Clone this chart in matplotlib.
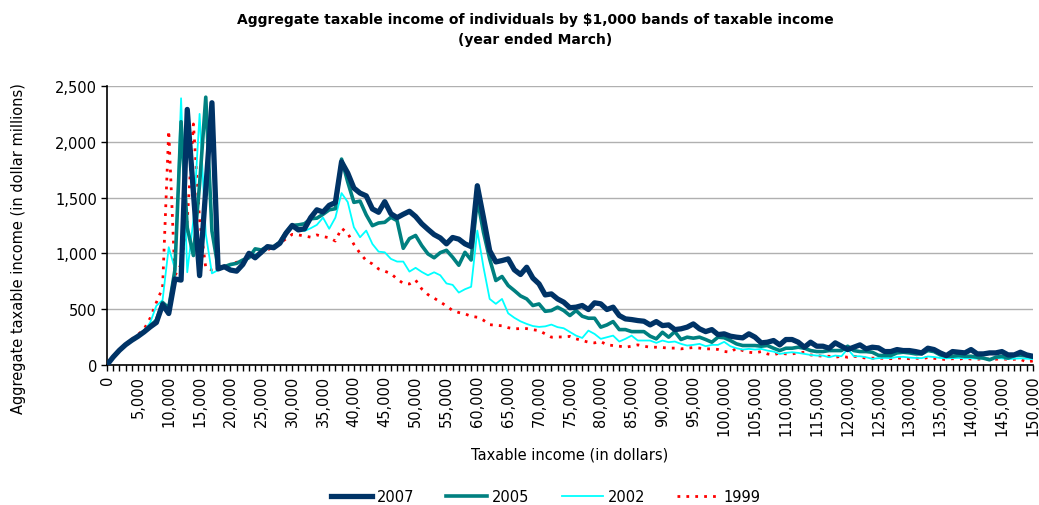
import matplotlib
matplotlib.use("Agg")
import matplotlib.pyplot as plt
import numpy as np

plt.rcParams['font.family'] = ['DejaVu Sans']

# income bands in $1,000 (0 .. 150)
bands = list(range(0, 151))

y2007 = [0, 70, 130, 180, 220, 255, 295, 340, 380, 540, 460, 770, 760, 2290, 1550, 800, 1580, 2350, 860, 880,
         850, 840, 900, 1000, 960, 1010, 1060, 1050, 1090, 1180, 1250, 1210, 1220, 1320, 1390, 1370, 1430, 1455, 1820, 1720,
         1585, 1540, 1515, 1398, 1368, 1463, 1355, 1320, 1350, 1377, 1330, 1265, 1215, 1168, 1138, 1085, 1142, 1127, 1085, 1060,
         1606, 1320, 1024, 923, 935, 950, 852, 810, 875, 778, 726, 627, 636, 591, 562, 512, 517, 532, 496, 556,
         547, 496, 517, 442, 412, 406, 397, 391, 358, 388, 352, 358, 316, 323, 338, 367, 323, 298, 316, 271,
         278, 257, 248, 242, 278, 248, 197, 203, 218, 179, 227, 227, 203, 158, 203, 167, 167, 149, 197, 167,
         137, 158, 179, 143, 158, 152, 119, 119, 137, 128, 128, 119, 107, 149, 137, 107, 83, 119, 113, 107,
         137, 98, 98, 107, 107, 119, 89, 89, 113, 89, 77]

y2005 = [0, 70, 130, 180, 220, 255, 300, 350, 400, 560, 510, 850, 2180, 1230, 980, 1620, 2400, 1200, 870, 880,
         900, 910, 940, 960, 1040, 1030, 1060, 1060, 1100, 1190, 1250, 1255, 1265, 1310, 1315, 1350, 1390, 1400, 1845, 1640,
         1457, 1468, 1345, 1248, 1272, 1278, 1323, 1293, 1045, 1132, 1160, 1069, 995, 960, 1006, 1027, 965, 893, 1009, 940,
         1487, 1189, 950, 756, 792, 711, 666, 618, 591, 532, 546, 480, 487, 517, 487, 442, 487, 436, 418, 418,
         338, 358, 388, 316, 316, 298, 298, 298, 257, 233, 292, 248, 298, 227, 248, 239, 248, 227, 203, 248,
         243, 218, 188, 173, 173, 173, 167, 173, 149, 128, 149, 149, 158, 149, 128, 119, 119, 128, 128, 128,
         167, 128, 119, 119, 113, 85, 83, 83, 107, 113, 107, 98, 98, 128, 119, 89, 77, 77, 83, 77,
         77, 68, 60, 45, 68, 77, 60, 83, 86, 80, 68]

y2002 = [0, 70, 130, 180, 225, 260, 300, 380, 530, 580, 1055, 860, 2390, 830, 1300, 2250, 1174, 820, 850, 870,
         890, 910, 940, 960, 990, 1010, 1040, 1060, 1090, 1170, 1230, 1210, 1200, 1225, 1255, 1320, 1220, 1320, 1540, 1460,
         1234, 1144, 1204, 1084, 1015, 1009, 950, 926, 926, 836, 870, 833, 803, 830, 803, 730, 717, 648, 678, 700,
         1204, 875, 591, 547, 591, 462, 422, 390, 367, 348, 340, 345, 361, 338, 328, 295, 262, 241, 307, 277,
         233, 248, 262, 209, 233, 262, 218, 218, 218, 197, 218, 203, 209, 188, 173, 179, 188, 167, 179, 179,
         206, 167, 149, 137, 143, 137, 143, 128, 119, 98, 107, 113, 107, 98, 89, 83, 83, 68, 83, 77,
         143, 77, 77, 68, 54, 60, 62, 60, 70, 72, 65, 62, 60, 75, 70, 62, 58, 60, 62, 58,
         60, 55, 58, 55, 60, 58, 52, 55, 58, 55, 52]

y1999 = [0, 70, 130, 185, 230, 270, 320, 420, 560, 690, 2100, 800, 900, 1300, 2160, 1300, 870, 850, 860, 870,
         900, 920, 930, 950, 970, 1000, 1030, 1060, 1090, 1130, 1170, 1165, 1155, 1145, 1165, 1150, 1140, 1110, 1225, 1180,
         1080, 1000, 935, 905, 860, 840, 818, 770, 730, 725, 760, 680, 630, 598, 564, 527, 487, 469, 457, 435,
         427, 400, 360, 355, 350, 333, 323, 325, 325, 315, 307, 278, 248, 250, 250, 255, 233, 218, 203, 197,
         209, 179, 173, 167, 158, 167, 179, 167, 158, 158, 155, 150, 150, 143, 150, 155, 150, 143, 143, 138,
         120, 113, 149, 128, 113, 107, 119, 98, 89, 107, 98, 98, 107, 113, 89, 83, 77, 77, 68, 77,
         68, 77, 68, 60, 60, 60, 58, 55, 62, 58, 55, 60, 55, 65, 58, 55, 45, 55, 50, 60,
         52, 50, 55, 52, 50, 55, 48, 50, 50, 25, 35]

series = [("2007", y2007), ("2005", y2005), ("2002", y2002), ("1999", y1999)]
styles = {
    "2007": dict(color="#003366", lw=3.8, ls="-", zorder=6),
    "2005": dict(color="#008080", lw=2.6, ls="-", zorder=5),
    "2002": dict(color="#00FFFF", lw=1.3, ls="-", zorder=4),
    "1999": dict(color="#FF0000", lw=2.0, ls=(0, (1, 2.2)), zorder=3),
}

fig = plt.figure(figsize=(10.39, 5.06), dpi=100)
ax = fig.add_axes([0.103, 0.277, 0.891, 0.551])

for name, vals in series:
    st = styles[name]
    ax.plot(bands, vals, color=st["color"], lw=st["lw"], ls=st["ls"], zorder=st["zorder"],
            label=name, solid_joinstyle="round")

ax.set_xlim(0, 150)
ax.set_ylim(0, 2500)
ax.set_yticks([0, 500, 1000, 1500, 2000, 2500])
ax.set_yticklabels(["0", "500", "1,000", "1,500", "2,000", "2,500"], fontsize=10.5)
xt = list(range(0, 151, 5))
ax.set_xticks(xt)
ax.set_xticklabels([f"{v*1000:,}" for v in xt], rotation=90, fontsize=10.5)
ax.set_xticks(list(range(0, 151)), minor=True)
ax.tick_params(axis="x", which="both", direction="out", length=4, width=1, pad=3)
ax.tick_params(axis="y", which="both", direction="out", length=4, width=1, pad=3)

ax.grid(axis="y", color="#B0B0B0", lw=1)
ax.set_axisbelow(True)
for s in ["top", "right"]:
    ax.spines[s].set_visible(False)
ax.spines["left"].set_linewidth(1.2)
ax.spines["bottom"].set_linewidth(1.2)

ax.set_ylabel("Aggregate taxable income (in dollar millions)", fontsize=10.5, labelpad=14)
ax.yaxis.set_label_coords(-0.088, 0.42)
ax.set_xlabel("Taxable income (in dollars)", fontsize=10.5, labelpad=8)

fig.text(0.515, 0.960, "Aggregate taxable income of individuals by $1,000 bands of taxable income",
         ha="center", va="center", fontsize=10, fontweight="bold")
fig.text(0.515, 0.920, "(year ended March)", ha="center", va="center", fontsize=10, fontweight="bold")

leg = fig.legend(loc="center", bbox_to_anchor=(0.525, 0.016), ncol=4, frameon=False,
                 fontsize=10.5, handlelength=2.8, columnspacing=2.2, handletextpad=0.35)

fig.savefig("out.png", dpi=100)
